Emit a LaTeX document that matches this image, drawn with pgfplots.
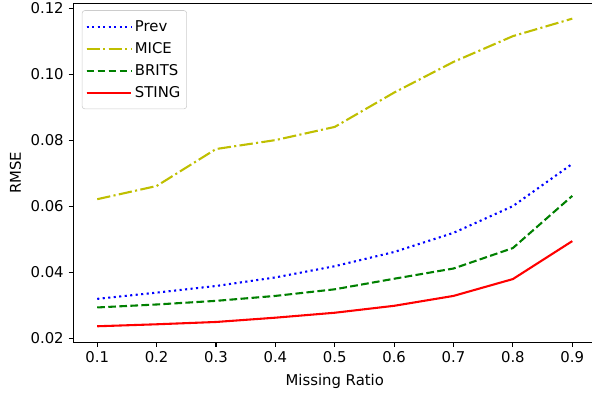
\documentclass[border=0pt]{standalone}
\usepackage{fontspec}
\setmainfont{DejaVu Sans}
\usepackage{pgfplots}
\pgfplotsset{compat=1.18}
\begin{document}
\begin{tikzpicture}
\useasboundingbox (-52.9pt,-37.4pt) rectangle (373.3pt,246.3pt);
\clip (-52.9pt,-37.4pt) rectangle (373.3pt,246.3pt);
\begin{axis}[
  at={(0,0)}, anchor=south west,
  width=376.2pt, height=243.8pt, scale only axis,
  xmin=0.06, xmax=0.94, ymin=0.0188, ymax=0.1214,
  xtick={0.1,0.2,0.3,0.4,0.5,0.6,0.7,0.8,0.9},
  ytick={0.02,0.04,0.06,0.08,0.10,0.12},
  scaled y ticks=false, scaled x ticks=false,
  xticklabel style={/pgf/number format/.cd, fixed, fixed zerofill, precision=1},
  yticklabel style={/pgf/number format/.cd, fixed, fixed zerofill, precision=2},
  /pgf/number format/assume math mode=true,
  tick align=outside, major tick length=3.5pt,
  tick style={line width=0.8pt, black},
  xtick pos=bottom, ytick pos=left,
  axis line style={line width=0.8pt},
  tick label style={font=\fontsize{10.7}{12.8}\selectfont},
  label style={font=\fontsize{10.7}{12.8}\selectfont},
  xlabel={Missing Ratio}, ylabel={RMSE},
  xlabel style={yshift=-1pt}, ylabel style={yshift=0pt},
  legend style={at={(0.016,0.98)}, anchor=north west, draw=black!20, rounded corners=2pt,
    font=\fontsize{10.7}{12.8}\selectfont, row sep=2.4pt, inner xsep=2.5pt, inner ysep=5pt},
  legend cell align=left,
  legend image code/.code={\draw[#1] (0pt,0pt) -- (24pt,0pt); \path (0pt,0pt) -- (32pt,0pt);},
  every axis plot/.append style={line width=1.5pt},
]
\addplot[color=blue, dash pattern=on 1.5pt off 2.475pt] coordinates {
(0.1,0.0319) (0.2,0.0338) (0.3,0.0358) (0.4,0.0384) (0.5,0.0418) (0.6,0.0461) (0.7,0.0519) (0.8,0.0600) (0.9,0.0728)};
\addlegendentry{Prev}
\addplot[color={rgb,1:red,0.75;green,0.75;blue,0}, dash pattern=on 9.6pt off 2.4pt on 1.5pt off 2.4pt] coordinates {
(0.1,0.0621) (0.2,0.0661) (0.3,0.0773) (0.4,0.0800) (0.5,0.0840) (0.6,0.0944) (0.7,0.1037) (0.8,0.1115) (0.9,0.1168)};
\addlegendentry{MICE}
\addplot[color={rgb,1:red,0;green,0.5;blue,0}, dash pattern=on 5.55pt off 2.4pt] coordinates {
(0.1,0.0293) (0.2,0.0302) (0.3,0.0313) (0.4,0.0328) (0.5,0.0348) (0.6,0.0380) (0.7,0.0411) (0.8,0.0473) (0.9,0.0631)};
\addlegendentry{BRITS}
\addplot[color=red] coordinates {
(0.1,0.0236) (0.2,0.0242) (0.3,0.0249) (0.4,0.0262) (0.5,0.0277) (0.6,0.0298) (0.7,0.0328) (0.8,0.0379) (0.9,0.0494)};
\addlegendentry{STING}
\end{axis}
\end{tikzpicture}
\end{document}
